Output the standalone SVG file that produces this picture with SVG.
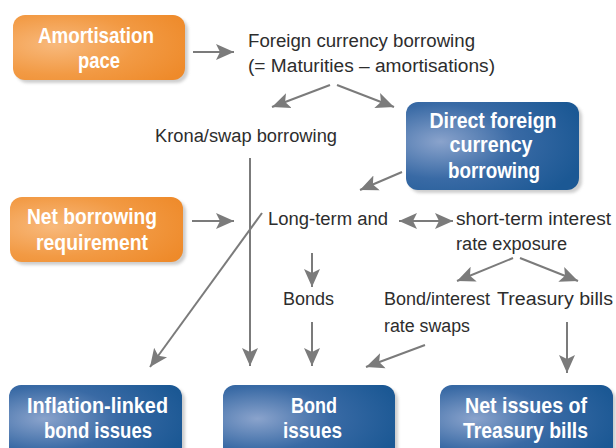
<svg xmlns="http://www.w3.org/2000/svg" width="616" height="448" viewBox="0 0 616 448">
  <defs>
    <radialGradient id="gOrange" cx="0.25" cy="0.45" r="0.85">
      <stop offset="0" stop-color="#f8b97c"/>
      <stop offset="0.55" stop-color="#f29a44"/>
      <stop offset="1" stop-color="#ee8a2a"/>
    </radialGradient>
    <radialGradient id="gBlue" cx="0.2" cy="0.45" r="0.85">
      <stop offset="0" stop-color="#8aa3cc"/>
      <stop offset="0.5" stop-color="#396aa5"/>
      <stop offset="1" stop-color="#1b5894"/>
    </radialGradient>
    <filter id="soft" x="-10%" y="-10%" width="120%" height="120%">
      <feGaussianBlur stdDeviation="1.5"/>
    </filter>
    <marker id="head" viewBox="0 0 18 18" refX="18" refY="9" markerWidth="18" markerHeight="18" markerUnits="userSpaceOnUse" orient="auto-start-reverse">
      <path d="M0,1 L18,9 L0,17 L4,9 Z" fill="#7b7b7b"/>
    </marker>
  </defs>
  <style>
    .shadow { fill: #b9b9b9; opacity: 0.7; filter: url(#soft); }
    .orange { fill: url(#gOrange); }
    .blue { fill: url(#gBlue); }
    .box-label { font-family: "Liberation Sans", Arial, sans-serif; font-weight: bold; font-size: 22px; fill: #ffffff; text-anchor: middle; }
    .label { font-family: "Liberation Sans", Arial, sans-serif; font-size: 18px; fill: #2d2d2d; }
    .conn line { stroke: #7b7b7b; stroke-width: 2; fill: none; }
    .conn .arrow { marker-end: url(#head); }
  </style>

  <rect width="616" height="448" fill="#ffffff"/>

  <!-- connectors -->
  <g id="connectors" class="conn">
    <line class="arrow" x1="193" y1="52" x2="234" y2="52"/>
    <line class="arrow" x1="330" y1="85" x2="272" y2="107"/>
    <line class="arrow" x1="337" y1="85" x2="394" y2="107"/>
    <line class="arrow" x1="402" y1="172" x2="360" y2="190"/>
    <line class="arrow" x1="192" y1="221" x2="234" y2="221"/>
    <line class="arrow" x1="250" y1="158" x2="250" y2="366"/>
    <line class="arrow" x1="262" y1="213" x2="150" y2="367"/>
    <line x1="399" y1="221" x2="453" y2="221" marker-start="url(#head)" marker-end="url(#head)"/>
    <line class="arrow" x1="312" y1="253" x2="312" y2="287"/>
    <line class="arrow" x1="312" y1="322" x2="312" y2="366"/>
    <line class="arrow" x1="513" y1="258" x2="457" y2="281"/>
    <line class="arrow" x1="520" y1="258" x2="578" y2="281"/>
    <line class="arrow" x1="425" y1="345" x2="366" y2="367"/>
    <line class="arrow" x1="567" y1="322" x2="567" y2="373"/>
  </g>

  <!-- plain text nodes -->
  <g id="foreign-currency-borrowing">
    <text class="label" x="248" y="47" textLength="227" lengthAdjust="spacingAndGlyphs">Foreign currency borrowing</text>
    <text class="label" x="248" y="72" textLength="247" lengthAdjust="spacingAndGlyphs">(= Maturities – amortisations)</text>
  </g>
  <g id="krona-swap-borrowing">
    <text class="label" x="155" y="142" textLength="182" lengthAdjust="spacingAndGlyphs">Krona/swap borrowing</text>
  </g>
  <g id="long-term">
    <text class="label" x="268" y="225" textLength="120" lengthAdjust="spacingAndGlyphs">Long-term and</text>
  </g>
  <g id="short-term">
    <text class="label" x="456" y="225" textLength="155" lengthAdjust="spacingAndGlyphs">short-term interest</text>
    <text class="label" x="456" y="250" textLength="111" lengthAdjust="spacingAndGlyphs">rate exposure</text>
  </g>
  <g id="bonds">
    <text class="label" x="283" y="305" textLength="51" lengthAdjust="spacingAndGlyphs">Bonds</text>
  </g>
  <g id="swaps">
    <text class="label" x="384" y="305" textLength="106" lengthAdjust="spacingAndGlyphs">Bond/interest</text>
    <text class="label" x="384" y="332" textLength="86" lengthAdjust="spacingAndGlyphs">rate swaps</text>
  </g>
  <g id="treasury-bills">
    <text class="label" x="497" y="305" textLength="116" lengthAdjust="spacingAndGlyphs">Treasury bills</text>
  </g>

  <!-- boxed nodes -->
  <g id="amortisation-pace">
    <rect class="shadow" x="16" y="18" width="172" height="65" rx="12"/>
    <rect class="orange" x="13" y="15" width="172" height="65" rx="12"/>
    <text class="box-label" x="96" y="43" textLength="116" lengthAdjust="spacingAndGlyphs">Amortisation</text>
    <text class="box-label" x="99" y="68" textLength="42" lengthAdjust="spacingAndGlyphs">pace</text>
  </g>

  <g id="direct-foreign-currency-borrowing">
    <rect class="shadow" x="409" y="105" width="173" height="88" rx="12"/>
    <rect class="blue" x="406" y="102" width="173" height="88" rx="12"/>
    <text class="box-label" x="493" y="128" textLength="127" lengthAdjust="spacingAndGlyphs">Direct foreign</text>
    <text class="box-label" x="491" y="152" textLength="83" lengthAdjust="spacingAndGlyphs">currency</text>
    <text class="box-label" x="494" y="178" textLength="92" lengthAdjust="spacingAndGlyphs">borrowing</text>
  </g>

  <g id="net-borrowing-requirement">
    <rect class="shadow" x="13" y="200" width="173" height="65" rx="12"/>
    <rect class="orange" x="10" y="197" width="173" height="65" rx="12"/>
    <text class="box-label" x="92" y="224" textLength="130" lengthAdjust="spacingAndGlyphs">Net borrowing</text>
    <text class="box-label" x="92" y="250" textLength="112" lengthAdjust="spacingAndGlyphs">requirement</text>
  </g>

  <g id="inflation-linked-bond-issues">
    <rect class="shadow" x="12" y="388" width="173" height="75" rx="12"/>
    <rect class="blue" x="9" y="385" width="173" height="75" rx="12"/>
    <text class="box-label" x="97.5" y="413" textLength="141" lengthAdjust="spacingAndGlyphs">Inflation-linked</text>
    <text class="box-label" x="98" y="438" textLength="108" lengthAdjust="spacingAndGlyphs">bond issues</text>
  </g>

  <g id="bond-issues">
    <rect class="shadow" x="226" y="388" width="172" height="75" rx="12"/>
    <rect class="blue" x="223" y="385" width="172" height="75" rx="12"/>
    <text class="box-label" x="314" y="413" textLength="46" lengthAdjust="spacingAndGlyphs">Bond</text>
    <text class="box-label" x="312.5" y="438" textLength="59" lengthAdjust="spacingAndGlyphs">issues</text>
  </g>

  <g id="net-issues-of-treasury-bills">
    <rect class="shadow" x="443" y="388" width="173" height="75" rx="12"/>
    <rect class="blue" x="440" y="385" width="173" height="75" rx="12"/>
    <text class="box-label" x="526" y="413" textLength="122" lengthAdjust="spacingAndGlyphs">Net issues of</text>
    <text class="box-label" x="525.5" y="438" textLength="125" lengthAdjust="spacingAndGlyphs">Treasury bills</text>
  </g>
</svg>
